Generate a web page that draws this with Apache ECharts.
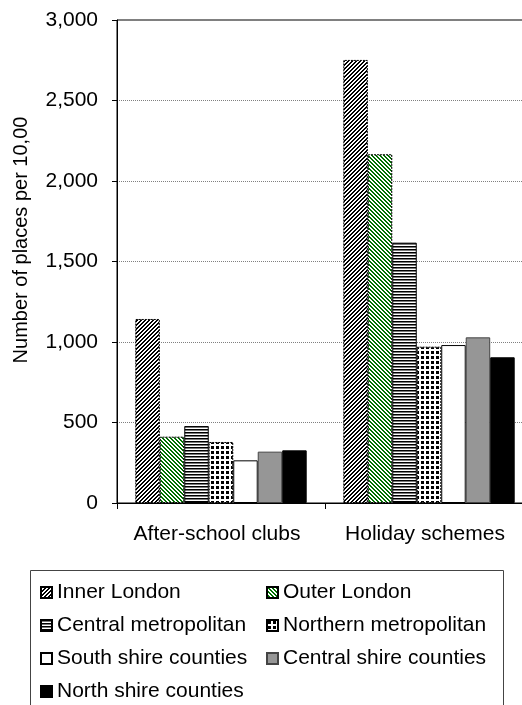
<!DOCTYPE html>
<html>
<head>
<meta charset="utf-8">
<script src="https://cdn.jsdelivr.net/npm/echarts@6/dist/echarts.min.js"></script>
<style>
  html, body { margin: 0; padding: 0; background: #fff; }
  #chart { width: 522px; height: 705px; }
</style>
</head>
<body>
<div id="chart"></div>
<script>
// Childcare places per 10,000 children, by region type
const categories = ['After-school clubs', 'Holiday schemes'];
const innerLondon = [1143, 2752];
const outerLondon = [412, 2166];
const centralMetropolitan = [478, 1617];
const northernMetropolitan = [379, 971];
const southShire = [265, 981];
const centralShire = [319, 1029];
const northShire = [327, 905];
const yTicks = { min: 0, max: 3000, step: 500 };

const FONT = '"Liberation Sans", Arial, sans-serif';

// Build a small repeating tile from a per-pixel rule
function tile(w, h, fg, rule) {
  const c = document.createElement('canvas');
  c.width = w; c.height = h;
  const ctx = c.getContext('2d');
  ctx.fillStyle = '#fff';
  ctx.fillRect(0, 0, w, h);
  for (let y = 0; y < h; y++) {
    for (let x = 0; x < w; x++) {
      const v = rule(x, y);
      if (v) {
        ctx.fillStyle = typeof v === 'string' ? v : fg;
        ctx.fillRect(x, y, 1, 1);
      }
    }
  }
  return { image: c, repeat: 'repeat' };
}

const hatchUp = tile(4, 4, '#000', (x, y) => ((x + y) % 4) < 2);
const hatchDownGreen = tile(4, 4, '#007000', (x, y) => (((x - y) % 4) + 4) % 4 < 2);
const horizLines = tile(3, 3, '#000', (x, y) => y === 0 ? '#000' : (y === 1 ? '#7a7a7a' : null));
const dots = tile(5, 5, '#000', (x, y) => x >= 1 && x <= 3 && y >= 1 && y <= 3);

function bar(name, data, itemStyle) {
  return {
    name, type: 'bar', data,
    barGap: '0%', barCategoryGap: '17.6%',
    itemStyle
  };
}

const series = [
  bar('Inner London', innerLondon, { color: hatchUp, borderColor: '#000', borderWidth: 1, borderType: [2, 1] }),
  bar('Outer London', outerLondon, { color: hatchDownGreen, borderColor: '#000', borderWidth: 1, borderType: [2, 1] }),
  bar('Central metropolitan', centralMetropolitan, { color: horizLines, borderColor: '#000', borderWidth: 1 }),
  bar('Northern metropolitan', northernMetropolitan, { color: dots, borderColor: '#000', borderWidth: 1, borderType: [2, 1] }),
  bar('South shire counties', southShire, { color: '#fff', borderColor: '#000', borderWidth: 1 }),
  bar('Central shire counties', centralShire, { color: '#969696', borderColor: '#444', borderWidth: 1 }),
  bar('North shire counties', northShire, { color: '#000', borderColor: '#000', borderWidth: 1 })
];

const legendCommon = {
  orient: 'vertical',
  icon: 'rect',
  itemWidth: 11,
  itemHeight: 11,
  itemGap: 12,
  top: 582,
  padding: 0,
  selectedMode: false,
  textStyle: { fontFamily: FONT, fontSize: 21, color: '#000' }
};

const chart = echarts.init(document.getElementById('chart'), null, { renderer: 'canvas' });
chart.setOption({
  animation: false,
  backgroundColor: '#fff',
  grid: {
    left: 117, width: 416, top: 20, bottom: 202,
    outerBoundsMode: 'none',
    containLabel: false,
    show: true, borderColor: '#000', borderWidth: 1, backgroundColor: 'transparent'
  },
  xAxis: {
    type: 'category',
    data: categories,
    axisLine: { lineStyle: { color: '#000', width: 1 } },
    axisTick: { show: true, length: 6, alignWithLabel: false, lineStyle: { color: '#000' } },
    axisLabel: {
      fontFamily: FONT, fontSize: 21, color: '#000', margin: 21, interval: 0,
      padding: [0, 8, 0, 0]
    }
  },
  yAxis: {
    type: 'value',
    min: yTicks.min, max: yTicks.max, interval: yTicks.step,
    axisLine: { show: true, lineStyle: { color: '#000', width: 1 } },
    axisTick: { show: true, length: 5, lineStyle: { color: '#000' } },
    axisLabel: {
      fontFamily: FONT, fontSize: 21, color: '#000', margin: 19,
      formatter: v => v.toLocaleString('en-US')
    },
    splitLine: { show: true, lineStyle: { color: '#808080', width: 1, type: [1, 1] } }
  },
  legend: [
    Object.assign({}, legendCommon, {
      left: 40,
      data: ['Inner London', 'Central metropolitan', 'South shire counties', 'North shire counties']
    }),
    Object.assign({}, legendCommon, {
      left: 266,
      data: ['Outer London', 'Northern metropolitan', 'Central shire counties']
    })
  ],
  graphic: [
    {
      type: 'text',
      x: 21, y: 240,
      rotation: Math.PI / 2,
      style: {
        text: 'Number of places per 10,00',
        fontFamily: FONT, fontSize: 20, fill: '#000',
        align: 'center', verticalAlign: 'middle'
      }
    },
    {
      type: 'rect',
      shape: { x: 30.5, y: 570.5, width: 473, height: 160 },
      style: { fill: 'none', stroke: '#444', lineWidth: 1 },
      z: -1
    }
  ],
  series
});
</script>
</body>
</html>
